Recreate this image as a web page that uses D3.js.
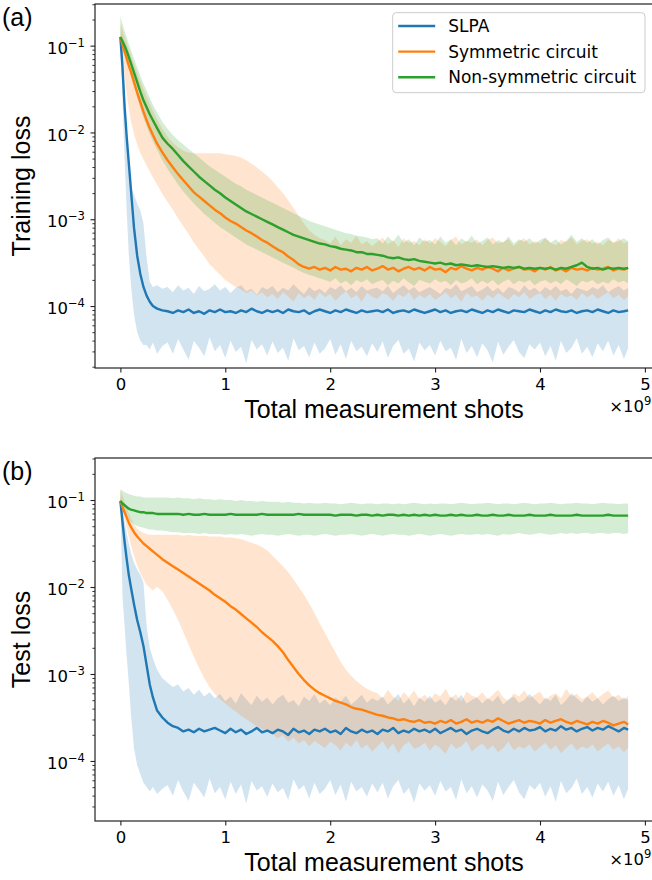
<!DOCTYPE html>
<html lang="en">
<head>
<meta charset="UTF-8">
<title>Training and test loss vs measurement shots</title>
<style>
  body { margin: 0; background: #fff; }
  svg text { font-family: "DejaVu Sans", sans-serif; fill: #000; }
</style>
</head>
<body>
<script src="https://d3js.org/d3.v7.min.js"></script>
<script>
// total measurement shots, in units of 1e9
const shots = [
  0, 0.02, 0.04, 0.06, 0.08, 0.10, 0.13, 0.16, 0.19, 0.22, 0.25, 0.28, 0.31, 0.35, 0.40,
  0.45, 0.50, 0.55, 0.60, 0.65, 0.70, 0.75, 0.80, 0.85, 0.90,
  0.95, 1.00, 1.05, 1.10, 1.15, 1.20, 1.25, 1.30, 1.35, 1.40,
  1.45, 1.50, 1.55, 1.60, 1.65, 1.70, 1.75, 1.80, 1.85, 1.90,
  1.95, 2.00, 2.05, 2.10, 2.15, 2.20, 2.25, 2.30, 2.35, 2.40,
  2.45, 2.50, 2.55, 2.60, 2.65, 2.70, 2.75, 2.80, 2.85, 2.90,
  2.95, 3.00, 3.05, 3.10, 3.15, 3.20, 3.25, 3.30, 3.35, 3.40,
  3.45, 3.50, 3.55, 3.60, 3.65, 3.70, 3.75, 3.80, 3.85, 3.90,
  3.95, 4.00, 4.05, 4.10, 4.15, 4.20, 4.25, 4.30, 4.35, 4.40,
  4.45, 4.50, 4.55, 4.60, 4.65, 4.70, 4.75, 4.80, 4.84
];

const seriesNames = ['SLPA', 'Symmetric circuit', 'Non-symmetric circuit'];
const xTicks = [0, 1, 2, 3, 4, 5];
const yTicks = [1e-1, 1e-2, 1e-3, 1e-4];

// all loss values below are log10(loss)
// ---- (a) training loss ----
const trainSlpa = [
  -0.90, -1.25, -1.70, -2.05, -2.35, -2.65, -3.10, -3.42, -3.63, -3.78, -3.88, -3.95, -4.00, -4.03, -4.05,
  -4.06, -4.08, -4.05, -4.07, -4.04, -4.08, -4.06, -4.09, -4.05, -4.07,
  -4.04, -4.07, -4.06, -4.08, -4.05, -4.07, -4.03, -4.06, -4.08, -4.05,
  -4.07, -4.05, -4.08, -4.04, -4.06, -4.07, -4.05, -4.09, -4.06, -4.04,
  -4.06, -4.08, -4.05, -4.07, -4.04, -4.06, -4.08, -4.05, -4.07, -4.06,
  -4.05, -4.07, -4.04, -4.08, -4.06, -4.05, -4.07, -4.04, -4.06, -4.08,
  -4.06, -4.04, -4.07, -4.05, -4.08, -4.06, -4.05, -4.07, -4.04, -4.06,
  -4.08, -4.05, -4.07, -4.04, -4.06, -4.08, -4.05, -4.06, -4.07, -4.04,
  -4.06, -4.08, -4.05, -4.07, -4.04, -4.06, -4.07, -4.05, -4.08, -4.06,
  -4.05, -4.07, -4.04, -4.06, -4.08, -4.05, -4.07, -4.06, -4.05
];
const trainSlpaHi = [
  -0.85, -1.05, -1.50, -2.05, -2.45, -2.62, -2.72, -2.82, -2.90, -3.05, -3.45, -3.72, -3.78, -3.76, -3.80,
  -3.78, -3.84, -3.76, -3.82, -3.79, -3.86, -3.77, -3.83, -3.80, -3.75,
  -3.82, -3.78, -3.85, -3.79, -3.76, -3.83, -3.80, -3.87, -3.78, -3.81,
  -3.77, -3.84, -3.79, -3.82, -3.75, -3.81, -3.86, -3.78, -3.83, -3.80,
  -3.85, -3.78, -3.81, -3.76, -3.83, -3.79, -3.84, -3.77, -3.82, -3.80,
  -3.79, -3.83, -3.77, -3.85, -3.80, -3.76, -3.82, -3.78, -3.84, -3.81,
  -3.78, -3.82, -3.86, -3.79, -3.81, -3.75, -3.83, -3.80, -3.77, -3.84,
  -3.81, -3.77, -3.83, -3.79, -3.85, -3.78, -3.80, -3.84, -3.76, -3.82,
  -3.79, -3.84, -3.78, -3.82, -3.77, -3.83, -3.80, -3.86, -3.79, -3.81,
  -3.83, -3.78, -3.81, -3.76, -3.84, -3.80, -3.77, -3.82, -3.79
];
const trainSlpaLo = [
  -0.95, -1.60, -2.30, -2.90, -3.40, -3.75, -4.10, -4.30, -4.40, -4.45, -4.45, -4.50, -4.42, -4.55, -4.46,
  -4.42, -4.55, -4.38, -4.50, -4.62, -4.40, -4.48, -4.58, -4.36, -4.52,
  -4.45, -4.60, -4.40, -4.53, -4.47, -4.66, -4.39, -4.50, -4.44, -4.57,
  -4.41, -4.54, -4.48, -4.63, -4.37, -4.51, -4.46, -4.59, -4.42, -4.55,
  -4.49, -4.38, -4.56, -4.44, -4.61, -4.40, -4.52, -4.47, -4.58, -4.43,
  -4.53, -4.41, -4.60, -4.46, -4.39, -4.55, -4.49, -4.64, -4.42, -4.51,
  -4.45, -4.57, -4.40, -4.52, -4.48, -4.62, -4.38, -4.54, -4.46, -4.59,
  -4.43, -4.51, -4.65, -4.41, -4.56, -4.47, -4.39, -4.53, -4.60, -4.44,
  -4.50, -4.42, -4.58, -4.46, -4.63, -4.40, -4.54, -4.48, -4.37, -4.55,
  -4.47, -4.59, -4.43, -4.52, -4.40, -4.57, -4.45, -4.61, -4.49
];
const trainSym = [
  -0.90, -0.99, -1.07, -1.15, -1.23, -1.30, -1.42, -1.54, -1.65, -1.76, -1.86, -1.95, -2.03, -2.13, -2.23,
  -2.32, -2.40, -2.48, -2.55, -2.62, -2.69, -2.74, -2.79, -2.84, -2.89,
  -2.93, -2.98, -3.02, -3.05, -3.09, -3.13, -3.16, -3.20, -3.24, -3.27,
  -3.31, -3.35, -3.38, -3.43, -3.47, -3.52, -3.55, -3.57, -3.55, -3.58,
  -3.56, -3.59, -3.55, -3.58, -3.57, -3.60, -3.56, -3.58, -3.55, -3.59,
  -3.57, -3.54, -3.58, -3.56, -3.60, -3.57, -3.55, -3.58, -3.56, -3.59,
  -3.55, -3.58, -3.57, -3.61, -3.56, -3.58, -3.54, -3.57, -3.59, -3.56,
  -3.58, -3.55, -3.57, -3.60, -3.56, -3.59, -3.57, -3.55, -3.58, -3.57,
  -3.60, -3.56, -3.58, -3.55, -3.59, -3.57, -3.60, -3.56, -3.58, -3.57,
  -3.59, -3.56, -3.58, -3.57, -3.55, -3.59, -3.57, -3.58, -3.56
];
const trainSymHi = [
  -0.75, -0.82, -0.90, -0.97, -1.04, -1.11, -1.21, -1.31, -1.41, -1.50, -1.59, -1.67, -1.75, -1.85, -1.96,
  -2.05, -2.12, -2.17, -2.21, -2.23, -2.24, -2.24, -2.24, -2.24, -2.24,
  -2.24, -2.25, -2.26, -2.27, -2.29, -2.32, -2.36, -2.40, -2.45, -2.50,
  -2.56, -2.63, -2.70, -2.78, -2.87, -2.96, -3.05, -3.13, -3.18, -3.22,
  -3.24, -3.28, -3.20, -3.30, -3.23, -3.27, -3.19, -3.29, -3.25, -3.31,
  -3.26, -3.21, -3.29, -3.24, -3.32, -3.22, -3.27, -3.25, -3.30, -3.23,
  -3.28, -3.22, -3.26, -3.31, -3.24, -3.20, -3.29, -3.25, -3.27, -3.23,
  -3.30, -3.24, -3.21, -3.28, -3.26, -3.23, -3.31, -3.25, -3.22, -3.29,
  -3.25, -3.28, -3.22, -3.27, -3.30, -3.24, -3.26, -3.21, -3.29, -3.25,
  -3.23, -3.28, -3.26, -3.30, -3.24, -3.27, -3.22, -3.28, -3.25
];
const trainSymLo = [
  -0.95, -1.15, -1.35, -1.55, -1.72, -1.86, -2.02, -2.14, -2.24, -2.31, -2.38, -2.45, -2.52, -2.60, -2.71,
  -2.80, -2.89, -2.99, -3.08, -3.17, -3.27, -3.35, -3.43, -3.52, -3.58,
  -3.64, -3.70, -3.74, -3.78, -3.81, -3.85, -3.82, -3.88, -3.84, -3.90,
  -3.86, -3.92, -3.84, -3.89, -3.95, -3.85, -3.91, -3.87, -3.93, -3.84,
  -3.90, -3.86, -3.94, -3.88, -3.83, -3.91, -3.87, -3.95, -3.85, -3.89,
  -3.92, -3.85, -3.88, -3.94, -3.86, -3.90, -3.84, -3.93, -3.87, -3.91,
  -3.86, -3.93, -3.89, -3.84, -3.91, -3.87, -3.95, -3.85, -3.90, -3.88,
  -3.94, -3.87, -3.91, -3.85, -3.89, -3.93, -3.86, -3.90, -3.84, -3.92,
  -3.88, -3.85, -3.92, -3.87, -3.94, -3.86, -3.90, -3.88, -3.93, -3.85,
  -3.90, -3.86, -3.92, -3.88, -3.84, -3.91, -3.87, -3.93, -3.89
];
const trainNonSym = [
  -0.90, -0.95, -1.00, -1.06, -1.13, -1.20, -1.31, -1.42, -1.53, -1.63, -1.71, -1.79, -1.86, -1.95, -2.06,
  -2.13, -2.19, -2.26, -2.33, -2.39, -2.45, -2.51, -2.56, -2.61, -2.66,
  -2.70, -2.75, -2.79, -2.83, -2.87, -2.91, -2.94, -2.97, -3.00, -3.03,
  -3.06, -3.09, -3.12, -3.15, -3.18, -3.20, -3.22, -3.24, -3.26, -3.28,
  -3.29, -3.31, -3.32, -3.34, -3.35, -3.36, -3.38, -3.38, -3.40, -3.40,
  -3.41, -3.42, -3.44, -3.45, -3.44, -3.46, -3.47, -3.46, -3.48, -3.49,
  -3.50, -3.51, -3.50, -3.52, -3.51, -3.53, -3.52, -3.53, -3.54, -3.53,
  -3.54, -3.55, -3.54, -3.55, -3.56, -3.55, -3.56, -3.55, -3.57, -3.56,
  -3.57, -3.56, -3.57, -3.56, -3.58, -3.56, -3.57, -3.55, -3.53, -3.50,
  -3.55, -3.57, -3.56, -3.58, -3.56, -3.57, -3.56, -3.57, -3.56
];
const trainNonSymHi = [
  -0.66, -0.75, -0.83, -0.90, -0.98, -1.05, -1.15, -1.25, -1.35, -1.44, -1.52, -1.60, -1.68, -1.77, -1.88,
  -1.96, -2.03, -2.09, -2.14, -2.19, -2.24, -2.29, -2.34, -2.39, -2.43,
  -2.47, -2.51, -2.55, -2.59, -2.62, -2.66, -2.69, -2.72, -2.75, -2.78,
  -2.81, -2.84, -2.87, -2.90, -2.93, -2.96, -2.99, -3.02, -3.04, -3.06,
  -3.08, -3.10, -3.12, -3.14, -3.16, -3.17, -3.19, -3.20, -3.21, -3.23,
  -3.22, -3.28, -3.20, -3.26, -3.18, -3.27, -3.23, -3.30, -3.21, -3.26,
  -3.24, -3.29, -3.20, -3.27, -3.23, -3.30, -3.22, -3.26, -3.19, -3.28,
  -3.25, -3.21, -3.29, -3.24, -3.27, -3.20, -3.28, -3.23, -3.26, -3.22,
  -3.28, -3.24, -3.21, -3.27, -3.23, -3.29, -3.25, -3.18, -3.26, -3.22,
  -3.27, -3.23, -3.29, -3.24, -3.21, -3.27, -3.25, -3.22, -3.26
];
const trainNonSymLo = [
  -0.95, -1.02, -1.09, -1.17, -1.26, -1.35, -1.48, -1.60, -1.72, -1.83, -1.93, -2.02, -2.10, -2.20, -2.32,
  -2.42, -2.51, -2.60, -2.68, -2.75, -2.82, -2.88, -2.94, -2.99, -3.04,
  -3.09, -3.13, -3.17, -3.21, -3.25, -3.29, -3.32, -3.35, -3.38, -3.41,
  -3.44, -3.47, -3.50, -3.53, -3.56, -3.59, -3.62, -3.64, -3.66, -3.68,
  -3.70, -3.72, -3.68, -3.74, -3.71, -3.76, -3.70, -3.73, -3.69, -3.75,
  -3.72, -3.70, -3.76, -3.71, -3.74, -3.68, -3.73, -3.77, -3.70, -3.72,
  -3.74, -3.69, -3.73, -3.71, -3.76, -3.70, -3.74, -3.72, -3.68, -3.75,
  -3.71, -3.74, -3.70, -3.76, -3.72, -3.69, -3.75, -3.71, -3.73, -3.70,
  -3.76, -3.72, -3.70, -3.74, -3.71, -3.75, -3.69, -3.73, -3.77, -3.71,
  -3.73, -3.70, -3.75, -3.72, -3.74, -3.69, -3.73, -3.71, -3.74
];

// ---- (b) test loss ----
const testSlpa = [
  -1.01, -1.25, -1.48, -1.68, -1.86, -2.00, -2.20, -2.38, -2.52, -2.68, -2.90, -3.12, -3.27, -3.42, -3.50,
  -3.56, -3.60, -3.62, -3.66, -3.64, -3.67, -3.63, -3.66, -3.64, -3.62,
  -3.65, -3.68, -3.63, -3.67, -3.64, -3.69, -3.66, -3.62, -3.67, -3.65,
  -3.68, -3.64, -3.66, -3.70, -3.63, -3.67, -3.65, -3.69, -3.64, -3.66,
  -3.63, -3.67, -3.65, -3.69, -3.62, -3.66, -3.68, -3.64, -3.67, -3.65,
  -3.69, -3.64, -3.66, -3.62, -3.68, -3.65, -3.67, -3.63, -3.66, -3.64,
  -3.67, -3.63, -3.68, -3.65, -3.62, -3.66, -3.64, -3.69, -3.65, -3.63,
  -3.66, -3.68, -3.64, -3.61, -3.65, -3.67, -3.63, -3.66, -3.62, -3.65,
  -3.64, -3.61, -3.66, -3.63, -3.65, -3.60, -3.64, -3.62, -3.66, -3.63,
  -3.61, -3.65, -3.62, -3.64, -3.60, -3.63, -3.66, -3.62, -3.64
];
const testSlpaHi = [
  -0.95, -1.10, -1.25, -1.38, -1.50, -1.60, -1.72, -1.80, -1.86, -1.95, -2.45, -2.70, -2.82, -2.95, -3.05,
  -3.10, -3.15, -3.12, -3.20, -3.16, -3.24, -3.18, -3.26, -3.21, -3.28,
  -3.23, -3.31, -3.26, -3.34, -3.22, -3.29, -3.36, -3.25, -3.32, -3.27,
  -3.35, -3.28, -3.24, -3.33, -3.30, -3.37, -3.26, -3.31, -3.23, -3.34,
  -3.29, -3.36, -3.27, -3.32, -3.25, -3.35, -3.30, -3.24, -3.33, -3.28,
  -3.31, -3.26, -3.35, -3.29, -3.23, -3.34, -3.28, -3.37, -3.27, -3.32,
  -3.25, -3.33, -3.29, -3.36, -3.26, -3.31, -3.24, -3.34, -3.30, -3.27,
  -3.34, -3.28, -3.32, -3.25, -3.35, -3.29, -3.26, -3.33, -3.30, -3.23,
  -3.29, -3.35, -3.27, -3.31, -3.24, -3.36, -3.30, -3.22, -3.28, -3.33,
  -3.26, -3.32, -3.28, -3.35, -3.29, -3.25, -3.31, -3.27, -3.30
];
const testSlpaLo = [
  -1.02, -2.10, -2.45, -2.80, -3.10, -3.45, -3.85, -4.05, -4.15, -4.25, -4.30, -4.35, -4.30, -4.38, -4.32,
  -4.28, -4.40, -4.22, -4.35, -4.46, -4.25, -4.33, -4.42, -4.20, -4.37,
  -4.30, -4.44, -4.24, -4.38, -4.27, -4.49, -4.23, -4.34, -4.29, -4.41,
  -4.26, -4.36, -4.31, -4.45, -4.21, -4.33, -4.28, -4.43, -4.25, -4.38,
  -4.32, -4.22, -4.39, -4.27, -4.47, -4.24, -4.35, -4.30, -4.41, -4.26,
  -4.36, -4.25, -4.43, -4.29, -4.22, -4.38, -4.31, -4.48, -4.26, -4.34,
  -4.28, -4.40, -4.23, -4.35, -4.30, -4.45, -4.21, -4.37, -4.29, -4.42,
  -4.27, -4.34, -4.46, -4.24, -4.39, -4.30, -4.22, -4.36, -4.44, -4.28,
  -4.33, -4.25, -4.41, -4.29, -4.47, -4.23, -4.37, -4.31, -4.20, -4.38,
  -4.30, -4.42, -4.26, -4.35, -4.24, -4.40, -4.28, -4.44, -4.32
];
const testSym = [
  -1.01, -1.08, -1.14, -1.20, -1.26, -1.31, -1.37, -1.42, -1.46, -1.50, -1.53, -1.56, -1.59, -1.63, -1.68,
  -1.72, -1.76, -1.80, -1.84, -1.88, -1.92, -1.96, -2.00, -2.04, -2.09,
  -2.13, -2.17, -2.22, -2.26, -2.31, -2.36, -2.41, -2.46, -2.52, -2.57,
  -2.62, -2.68, -2.75, -2.84, -2.92, -3.00, -3.07, -3.13, -3.18, -3.22,
  -3.25, -3.28, -3.31, -3.33, -3.35, -3.38, -3.40, -3.41, -3.43, -3.45,
  -3.47, -3.48, -3.50, -3.51, -3.53, -3.52, -3.54, -3.55, -3.53, -3.56,
  -3.55, -3.57, -3.54, -3.56, -3.53, -3.57, -3.55, -3.52, -3.56, -3.54,
  -3.56, -3.53, -3.55, -3.51, -3.54, -3.57, -3.55, -3.53, -3.56, -3.54,
  -3.55, -3.57, -3.53, -3.56, -3.54, -3.52, -3.55, -3.57, -3.54, -3.56,
  -3.58, -3.55, -3.57, -3.54, -3.56, -3.59, -3.57, -3.55, -3.58
];
const testSymHi = [
  -0.88, -0.95, -1.02, -1.09, -1.15, -1.21, -1.28, -1.33, -1.36, -1.38, -1.39, -1.40, -1.40, -1.40, -1.40,
  -1.40, -1.40, -1.40, -1.41, -1.40, -1.41, -1.41, -1.41, -1.42, -1.42,
  -1.42, -1.43, -1.43, -1.44, -1.45, -1.47, -1.49, -1.51, -1.54, -1.58,
  -1.64, -1.70, -1.76, -1.83, -1.91, -2.00, -2.09, -2.19, -2.30, -2.42,
  -2.53, -2.64, -2.75, -2.86, -2.95, -3.02, -3.08, -3.13, -3.17, -3.20,
  -3.22, -3.28, -3.18, -3.26, -3.31, -3.21, -3.27, -3.19, -3.29, -3.24,
  -3.30, -3.22, -3.26, -3.17, -3.28, -3.23, -3.32, -3.20, -3.25, -3.27,
  -3.21, -3.29, -3.24, -3.18, -3.27, -3.31, -3.22, -3.26, -3.19, -3.28,
  -3.24, -3.20, -3.30, -3.25, -3.22, -3.28, -3.17, -3.26, -3.23, -3.29,
  -3.26, -3.21, -3.28, -3.23, -3.19, -3.27, -3.24, -3.30, -3.25
];
const testSymLo = [
  -1.02, -1.12, -1.22, -1.32, -1.42, -1.52, -1.64, -1.75, -1.84, -1.91, -1.97, -2.01, -2.04, -2.00, -2.05,
  -2.15, -2.26, -2.38, -2.52, -2.66, -2.80, -2.93, -3.05, -3.15, -3.23,
  -3.29, -3.34, -3.39, -3.43, -3.48, -3.52, -3.56, -3.60, -3.63, -3.66,
  -3.69, -3.74, -3.70, -3.78, -3.73, -3.80, -3.76, -3.83, -3.77, -3.81,
  -3.85, -3.78, -3.82, -3.88, -3.79, -3.84, -3.76, -3.86, -3.81, -3.89,
  -3.83, -3.77, -3.87, -3.80, -3.91, -3.82, -3.78, -3.86, -3.84, -3.79,
  -3.88, -3.81, -3.85, -3.92, -3.80, -3.86, -3.83, -3.77, -3.89, -3.84,
  -3.80, -3.87, -3.82, -3.90, -3.85, -3.78, -3.88, -3.83, -3.86, -3.81,
  -3.89, -3.84, -3.79, -3.87, -3.82, -3.91, -3.85, -3.80, -3.88, -3.83,
  -3.86, -3.81, -3.89, -3.84, -3.80, -3.87, -3.83, -3.90, -3.85
];
const testNonSym = [
  -1.01, -1.04, -1.06, -1.08, -1.10, -1.11, -1.12, -1.13, -1.14, -1.14, -1.15, -1.15, -1.15, -1.16, -1.16,
  -1.16, -1.16, -1.16, -1.17, -1.16, -1.17, -1.17, -1.16, -1.17, -1.17,
  -1.17, -1.17, -1.16, -1.17, -1.17, -1.17, -1.17, -1.17, -1.16, -1.17,
  -1.17, -1.17, -1.17, -1.17, -1.17, -1.16, -1.17, -1.17, -1.17, -1.17,
  -1.17, -1.17, -1.18, -1.17, -1.17, -1.17, -1.18, -1.17, -1.17, -1.18,
  -1.17, -1.18, -1.17, -1.17, -1.18, -1.17, -1.18, -1.17, -1.18, -1.17,
  -1.18, -1.17, -1.18, -1.18, -1.17, -1.18, -1.17, -1.18, -1.18, -1.17,
  -1.18, -1.18, -1.17, -1.18, -1.18, -1.17, -1.18, -1.18, -1.18, -1.17,
  -1.18, -1.18, -1.18, -1.17, -1.18, -1.18, -1.18, -1.18, -1.17, -1.18,
  -1.18, -1.18, -1.18, -1.18, -1.17, -1.18, -1.18, -1.18, -1.18
];
const testNonSymHi = [
  -0.88, -0.89, -0.91, -0.92, -0.93, -0.94, -0.95, -0.96, -0.96, -0.97, -0.97, -0.97, -0.97, -0.97, -0.97,
  -0.97, -0.98, -0.97, -0.98, -0.98, -0.99, -0.98, -0.99, -0.99, -1.00,
  -0.99, -1.00, -1.00, -1.01, -1.00, -1.01, -1.01, -1.02, -1.01, -1.02,
  -1.02, -1.02, -1.03, -1.02, -1.03, -1.03, -1.04, -1.03, -1.04, -1.04,
  -1.03, -1.04, -1.04, -1.05, -1.04, -1.03, -1.04, -1.05, -1.04, -1.04,
  -1.05, -1.04, -1.04, -1.05, -1.04, -1.05, -1.04, -1.03, -1.04, -1.05,
  -1.04, -1.05, -1.04, -1.04, -1.05, -1.04, -1.03, -1.04, -1.05, -1.04,
  -1.04, -1.03, -1.04, -1.05, -1.04, -1.04, -1.05, -1.04, -1.03, -1.04,
  -1.05, -1.04, -1.04, -1.03, -1.04, -1.05, -1.04, -1.04, -1.03, -1.04,
  -1.04, -1.05, -1.04, -1.03, -1.04, -1.04, -1.05, -1.04, -1.04
];
const testNonSymLo = [
  -1.02, -1.08, -1.13, -1.18, -1.22, -1.25, -1.28, -1.30, -1.31, -1.32, -1.33, -1.34, -1.34, -1.35, -1.35,
  -1.36, -1.37, -1.37, -1.38, -1.38, -1.38, -1.39, -1.38, -1.39, -1.39,
  -1.39, -1.40, -1.39, -1.40, -1.39, -1.40, -1.41, -1.40, -1.39, -1.40,
  -1.40, -1.41, -1.40, -1.39, -1.40, -1.41, -1.40, -1.40, -1.41, -1.40,
  -1.39, -1.40, -1.41, -1.40, -1.40, -1.39, -1.40, -1.41, -1.40, -1.39,
  -1.40, -1.41, -1.40, -1.39, -1.40, -1.40, -1.41, -1.40, -1.39, -1.40,
  -1.41, -1.40, -1.39, -1.40, -1.41, -1.40, -1.39, -1.40, -1.40, -1.39,
  -1.40, -1.39, -1.40, -1.41, -1.39, -1.40, -1.39, -1.38, -1.39, -1.40,
  -1.39, -1.38, -1.39, -1.40, -1.39, -1.38, -1.39, -1.38, -1.39, -1.38,
  -1.38, -1.39, -1.38, -1.38, -1.39, -1.38, -1.38, -1.39, -1.38
];

const colors = ['#1f77b4', '#ff7f0e', '#2ca02c'];

const W = 652, H = 880;
const axLeft = 95, axRight = 653.5;

const panels = [
  {
    tag: '(a)', ylabel: 'Training loss', top: 4, bottom: 368,
    yDomain: [Math.pow(10, -4.714), Math.pow(10, -0.52)], legend: true,
    series: [[trainSlpa, trainSlpaLo, trainSlpaHi], [trainSym, trainSymLo, trainSymHi], [trainNonSym, trainNonSymLo, trainNonSymHi]]
  },
  {
    tag: '(b)', ylabel: 'Test loss', top: 458, bottom: 821,
    yDomain: [Math.pow(10, -4.69), Math.pow(10, -0.517)], legend: false,
    series: [[testSlpa, testSlpaLo, testSlpaHi], [testSym, testSymLo, testSymHi], [testNonSym, testNonSymLo, testNonSymHi]]
  }
];

const svg = d3.select('body').append('svg')
  .attr('width', W)
  .attr('height', H);

const x = d3.scaleLinear()
  .domain([-0.242, 5.082])
  .range([axLeft, axRight]);

panels.forEach((p, pi) => {
  const y = d3.scaleLog()
    .domain(p.yDomain)
    .range([p.bottom, p.top]);

  const clipId = 'clip' + pi;
  svg.append('clipPath').attr('id', clipId)
    .append('rect')
    .attr('x', axLeft).attr('y', p.top)
    .attr('width', axRight - axLeft).attr('height', p.bottom - p.top);

  const plot = svg.append('g').attr('clip-path', 'url(#' + clipId + ')');

  // turn the log10 arrays into points
  const rows = p.series.map(([mid, lo, hi]) => shots.map((s, i) => ({
    s: s,
    mid: Math.pow(10, mid[i]),
    lo: Math.pow(10, lo[i]),
    hi: Math.pow(10, hi[i])
  })).filter(d => !isNaN(d.mid) && !isNaN(d.lo) && !isNaN(d.hi)));

  const area = d3.area()
    .x(d => x(d.s))
    .y0(d => y(d.lo))
    .y1(d => y(d.hi));
  const line = d3.line()
    .x(d => x(d.s))
    .y(d => y(d.mid));

  rows.forEach((r, k) => {
    plot.append('path')
      .datum(r)
      .attr('d', area)
      .attr('fill', colors[k])
      .attr('fill-opacity', 0.2)
      .attr('stroke', 'none');
  });
  rows.forEach((r, k) => {
    plot.append('path')
      .datum(r)
      .attr('d', line)
      .attr('fill', 'none')
      .attr('stroke', colors[k])
      .attr('stroke-width', 2.4)
      .attr('stroke-linejoin', 'round');
  });

  // x axis
  const gx = svg.append('g')
    .attr('transform', 'translate(0,' + p.bottom + ')')
    .call(d3.axisBottom(x).tickValues(xTicks).tickFormat(d3.format('d')).tickSize(4.5).tickPadding(6).tickSizeOuter(0));
  gx.select('.domain').remove();
  gx.selectAll('.tick line').attr('stroke', '#222').attr('stroke-width', 1.1);
  gx.selectAll('.tick text').attr('font-size', 16.5).attr('font-family', '"DejaVu Sans", sans-serif');

  // y axis, minor ticks first
  const minors = [];
  for (let e = -5; e <= 0; e++) {
    for (let m = 2; m <= 9; m++) {
      const v = m * Math.pow(10, e);
      if (v >= p.yDomain[0] && v <= p.yDomain[1]) minors.push(v);
    }
  }
  const gyMinor = svg.append('g')
    .attr('transform', 'translate(' + axLeft + ',0)')
    .call(d3.axisLeft(y).tickValues(minors).tickFormat('').tickSize(2.6).tickSizeOuter(0));
  gyMinor.select('.domain').remove();
  gyMinor.selectAll('.tick line').attr('stroke', '#222').attr('stroke-width', 0.9);

  const gy = svg.append('g')
    .attr('transform', 'translate(' + axLeft + ',0)')
    .call(d3.axisLeft(y).tickValues(yTicks).tickFormat('').tickSize(4.5).tickPadding(5.5).tickSizeOuter(0));
  gy.select('.domain').remove();
  gy.selectAll('.tick line').attr('stroke', '#222').attr('stroke-width', 1.1);
  gy.selectAll('.tick text').each(function (d) {
    const t = d3.select(this)
      .attr('font-size', 16.5)
      .attr('dy', '0.46em')
      .attr('font-family', '"DejaVu Sans", sans-serif');
    t.text(null);
    t.append('tspan').text('10');
    t.append('tspan')
      .attr('dy', -7)
      .attr('font-size', 11.6)
      .text('\u2212' + Math.round(-Math.log10(d)));
  });

  // frame
  svg.append('rect')
    .attr('x', axLeft).attr('y', p.top)
    .attr('width', axRight - axLeft).attr('height', p.bottom - p.top)
    .attr('fill', 'none')
    .attr('stroke', '#222')
    .attr('stroke-width', 1.2);

  // offset text ×10^9
  const off = svg.append('text')
    .attr('x', 651.5)
    .attr('y', p.bottom + 43.7)
    .attr('text-anchor', 'end')
    .attr('font-size', 16.5);
  off.append('tspan').text('\u00d710');
  off.append('tspan').attr('dy', -7).attr('font-size', 11.6).text('9');

  // axis labels
  svg.append('text')
    .attr('x', 384)
    .attr('y', p.bottom + 49.7)
    .attr('text-anchor', 'middle')
    .style('font-family', '"Liberation Sans", Arial, sans-serif')
    .attr('font-size', 25)
    .text('Total measurement shots');

  svg.append('text')
    .attr('transform', 'translate(30,' + ((p.top + p.bottom) / 2) + ') rotate(-90)')
    .attr('text-anchor', 'middle')
    .style('font-family', '"Liberation Sans", Arial, sans-serif')
    .attr('font-size', 25)
    .text(p.ylabel);

  svg.append('text')
    .attr('x', 2)
    .attr('y', p.top + 22.4)
    .style('font-family', '"Liberation Sans", Arial, sans-serif')
    .attr('font-size', 25)
    .text(p.tag);

  if (p.legend) {
    const lg = svg.append('g').attr('transform', 'translate(392.7,12.7)');
    lg.append('rect')
      .attr('width', 252.3).attr('height', 80)
      .attr('rx', 3.5)
      .attr('fill', '#fff').attr('fill-opacity', 0.8)
      .attr('stroke', '#cccccc').attr('stroke-width', 1);
    seriesNames.forEach((name, k) => {
      const cy = 13.3 + k * 25.6;
      lg.append('line')
        .attr('x1', 5.5).attr('x2', 42.5)
        .attr('y1', cy).attr('y2', cy)
        .attr('stroke', colors[k]).attr('stroke-width', 2.4);
      lg.append('text')
        .attr('x', 55.5).attr('y', cy + 6)
        .attr('font-size', 17)
        .text(name);
    });
  }
});
</script>
</body>
</html>
